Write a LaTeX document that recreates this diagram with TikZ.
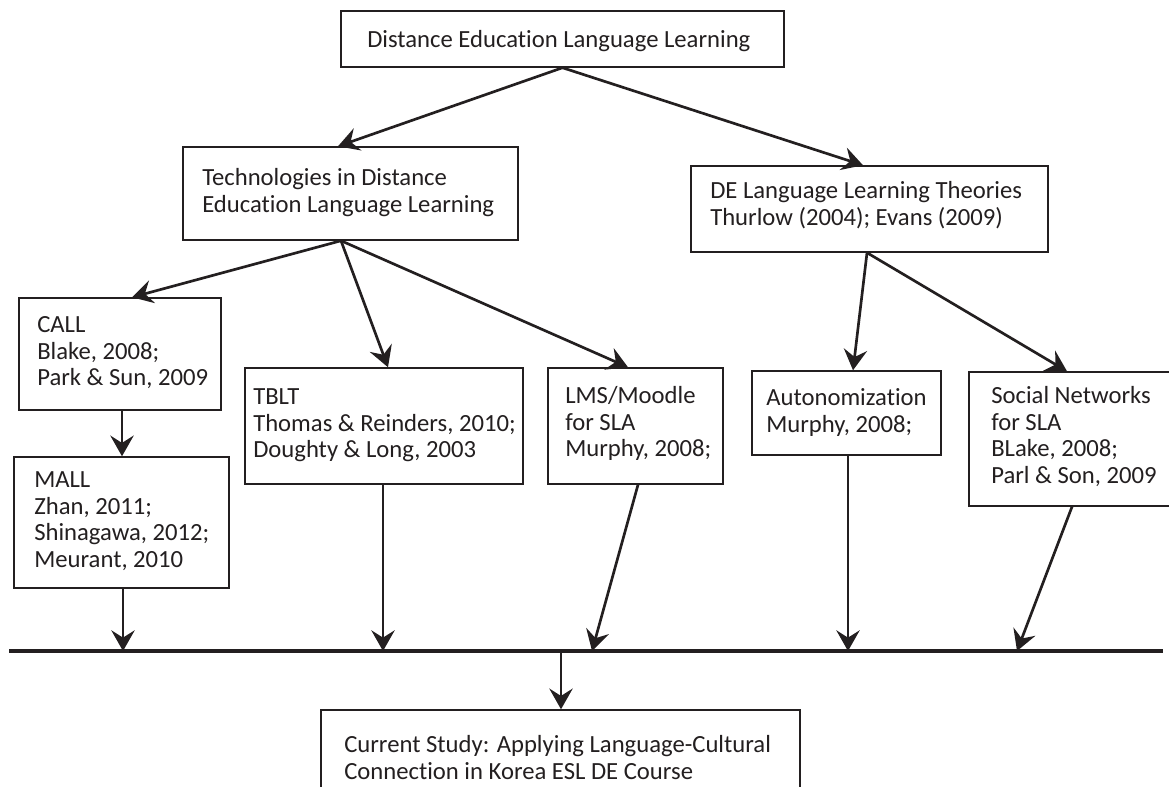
\documentclass[tikz,border=0pt]{standalone}
\usepackage{fontspec}
\setmainfont{Carlito}[Ligatures={NoCommon}]
\usetikzlibrary{arrows.meta,fit}
\definecolor{ink}{RGB}{35,31,32}
\begin{document}
\begin{tikzpicture}[x=0.75pt,y=-0.75pt,
  box/.style={draw=ink,line width=1.1pt,inner sep=0pt,fill=none},
  txt/.style={anchor=north west,inner sep=0pt,align=left,text=ink,
    font=\fontsize{18.5}{19.9}\selectfont,execute at begin node=\strut},
  conn/.style={draw=ink,line width=2pt,-{Stealth[length=15.5pt,width=17.5pt,inset=5.5pt]}},
  base/.style={draw=ink,line width=2.4pt}]
\useasboundingbox (0,0) rectangle (1169,787);
\fill[white] (0,0) rectangle (1169,787);
% boxes
\node[box,fit={(341,11) (784,67)}] (top) {};
\node[box,fit={(183,147) (518,240)}] (tech) {};
\node[box,fit={(691,166) (1048,252)}] (de) {};
\node[box,fit={(19,298) (221,410)}] (call) {};
\node[box,fit={(14,457) (229,588)}] (mall) {};
\node[box,fit={(245,368) (523,484)}] (tblt) {};
\node[box,fit={(548,368) (723,484)}] (lms) {};
\node[box,fit={(752,371) (941,455)}] (auto) {};
\node[box,fit={(969,372) (1185,506)}] (soc) {};
\node[box,fit={(321,710) (800,800)}] (cur) {};
% texts
\node[txt] (ttop) at (367,28.4) {Distance Education Language Learning};
\node[txt] (ttech) at (202,168.4) {Technologies in Distance\\Education Language Learning};
\node[txt] (tde) at (710,181.4) {DE Language Learning Theories\\Thurlow (2004); Evans (2009)};
\node[txt] (tcall) at (37,316.4) {CALL\\Blake, 2008;\\Park \& Sun, 2009};
\node[txt] (tmall) at (34,471.4) {MALL\\Zhan, 2011;\\Shinagawa, 2012;\\Meurant, 2010};
\node[txt] (ttblt) at (253,388.4) {TBLT\\Thomas \& Reinders, 2010;\\Doughty \& Long, 2003};
\node[txt] (tlms) at (565,386.4) {LMS/Moodle\\for SLA\\Murphy, 2008;};
\node[txt] (tauto) at (766,388.4) {Autonomization\\Murphy, 2008;};
\node[txt] (tsoc) at (991,386.4) {Social Networks\\for SLA\\BLake, 2008;\\Parl \& Son, 2009};
\node[txt] (tcur) at (344,735.4) {Current Study: Applying Language-Cultural\\Connection in Korea ESL DE Course};
% base line
\coordinate (L1) at (9,651);
\coordinate (L2) at (1163,651);
\draw[base] (L1) -- (L2);
\coordinate (pM) at (123,651);
\coordinate (pT) at (383,651);
\coordinate (pL) at (592,651);
\coordinate (pA) at (848,651);
\coordinate (pS) at (1017,651);
\coordinate (pC) at (561,651);
% connectors
\draw[conn] (top.south) -- (338,0 |- tech.north);
\draw[conn] (top.south) -- (863,0 |- de.north);
\draw[conn] (341,0 |- tech.south) -- (132,0 |- call.north);
\draw[conn] (341,0 |- tech.south) -- (388,0 |- tblt.north);
\draw[conn] (341,0 |- tech.south) -- (628,0 |- lms.north);
\draw[conn] (122,0 |- call.south) -- (122,0 |- mall.north);
\draw[conn] (123,0 |- mall.south) -- (pM);
\draw[conn] (383,0 |- tblt.south) -- (pT);
\draw[conn] (638,0 |- lms.south) -- (pL);
\draw[conn] (867,0 |- de.south) -- (853,0 |- auto.north);
\draw[conn] (867,0 |- de.south) -- (1067,0 |- soc.north);
\draw[conn] (848,0 |- auto.south) -- (pA);
\draw[conn] (1072,0 |- soc.south) -- (pS);
\draw[conn] (pC) -- (561,0 |- cur.north);
\end{tikzpicture}
\end{document}
